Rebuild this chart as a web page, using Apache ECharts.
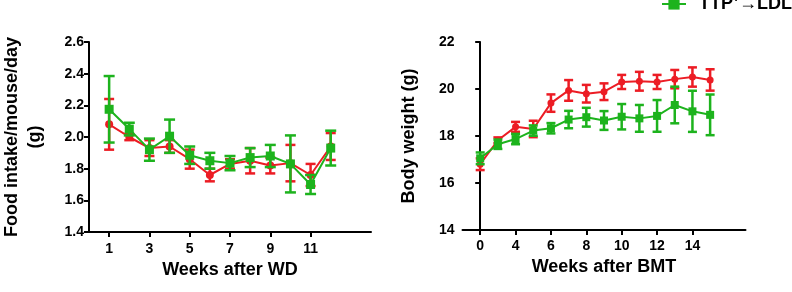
<!DOCTYPE html>
<html>
<head>
<meta charset="utf-8">
<script src="https://cdn.jsdelivr.net/npm/echarts@6/dist/echarts.min.js"></script>
<style>
  html, body { margin: 0; padding: 0; background: #fff; }
  #chart { width: 792px; height: 292px; }
</style>
</head>
<body>
<div id="chart"></div>
<script>
// food intake, weeks after WD
const weeksWD = [1, 2, 3, 4, 5, 6, 7, 8, 9, 10, 11, 12];
const foodRed = [2.08, 2.00, 1.93, 1.94, 1.86, 1.76, 1.83, 1.85, 1.82, 1.835, 1.76, 1.94];
const foodRedSem = [0.16, 0.02, 0.05, 0.04, 0.06, 0.04, 0.03, 0.08, 0.05, 0.115, 0.07, 0.085];
const foodGreen = [2.175, 2.05, 1.92, 2.005, 1.885, 1.85, 1.835, 1.87, 1.88, 1.83, 1.70, 1.93];
const foodGreenSem = [0.21, 0.04, 0.07, 0.105, 0.055, 0.05, 0.045, 0.06, 0.07, 0.18, 0.06, 0.11];

// body weight, weeks after BMT
const weeksBMT = ["0", "2", "4", "5", "6", "7", "8", "9", "10", "11", "12", "13", "14", "15"];
const bwRed = [16.8, 17.82, 18.39, 18.3, 19.4, 19.94, 19.8, 19.885, 20.3, 20.33, 20.3, 20.42, 20.51, 20.385];
const bwRedSem = [0.25, 0.12, 0.21, 0.35, 0.37, 0.44, 0.375, 0.355, 0.3, 0.4, 0.3, 0.39, 0.41, 0.455];
const bwGreen = [17.05, 17.65, 17.87, 18.23, 18.33, 18.7, 18.8, 18.66, 18.82, 18.75, 18.855, 19.32, 19.05, 18.9];
const bwGreenSem = [0.25, 0.2, 0.22, 0.22, 0.22, 0.37, 0.4, 0.4, 0.54, 0.57, 0.675, 0.78, 0.875, 0.865];

const redName = "TTP\u207A/\u207A\u2192LDLR\u207B/\u207B";
const greenName = "TTP\u207A\u2192LDLR\u207B/\u207B";

const RED = "#ec1c24";
const GREEN = "#1db31d";
const FONT = "Liberation Sans";

function errorBars(color, capW, lw) {
  return function (params, api) {
    const x = api.value(0);
    const lo = api.coord([x, api.value(1)]);
    const hi = api.coord([x, api.value(2)]);
    const h = capW / 2;
    const style = { stroke: color, lineWidth: lw };
    return {
      type: "group",
      children: [
        { type: "line", shape: { x1: lo[0], y1: lo[1], x2: hi[0], y2: hi[1] }, style: style },
        { type: "line", shape: { x1: lo[0] - h, y1: lo[1], x2: lo[0] + h, y2: lo[1] }, style: style },
        { type: "line", shape: { x1: hi[0] - h, y1: hi[1], x2: hi[0] + h, y2: hi[1] }, style: style }
      ]
    };
  };
}

const foodX = weeksWD;
const bwX = weeksBMT.map((w, i) => i);

function pts(xs, ys) { return ys.map((v, i) => [xs[i], v]); }
function errs(xs, ys, sem) { return ys.map((v, i) => [xs[i], v - sem[i], v + sem[i]]); }

const axisLineStyle = { lineStyle: { color: "#000", width: 2 } };
const tickStyle = { inside: false, length: 5, lineStyle: { color: "#000", width: 2 } };
const labelStyle = { color: "#000", fontFamily: FONT, fontWeight: "bold", fontSize: 14 };
const nameStyle = { color: "#000", fontFamily: FONT, fontWeight: "bold", fontSize: 18 };

const chart = echarts.init(document.getElementById("chart"));
chart.setOption({
  animation: false,
  backgroundColor: "#fff",
  legend: {
    data: [{ name: greenName }],
    left: 661,
    top: -5,
    padding: 0,
    itemWidth: 24,
    itemHeight: 14,
    textStyle: { color: "#000", fontFamily: FONT, fontWeight: "bold", fontSize: 18, padding: [0, 0, 0, 8] }
  },
  grid: [
    { left: 85, top: 42, width: 286, height: 190 },
    { left: 462.5, top: 42, width: 283, height: 188 }
  ],
  xAxis: [
    {
      gridIndex: 0, type: "value", min: 0, max: 14,
      name: "Weeks after WD", nameLocation: "middle", nameGap: 29, nameTextStyle: nameStyle,
      axisLine: axisLineStyle,
      axisTick: Object.assign({ customValues: [1, 3, 5, 7, 9, 11] }, tickStyle),
      axisLabel: Object.assign({ customValues: [1, 3, 5, 7, 9, 11], margin: 10 }, labelStyle),
      splitLine: { show: false }
    },
    {
      gridIndex: 1, type: "value", min: -1, max: 15,
      name: "Weeks after BMT", nameLocation: "middle", nameGap: 28, nameTextStyle: nameStyle,
      axisLine: axisLineStyle,
      axisTick: Object.assign({ customValues: [0, 2, 4, 6, 8, 10, 12] }, tickStyle),
      axisLabel: Object.assign({
        customValues: [0, 2, 4, 6, 8, 10, 12],
        margin: 9,
        formatter: v => weeksBMT[v]
      }, labelStyle),
      splitLine: { show: false }
    }
  ],
  yAxis: [
    {
      gridIndex: 0, type: "value", min: 1.4, max: 2.6, interval: 0.2,
      name: "Food intake/mouse/day\n(g)", nameLocation: "middle", nameGap: 42,
      nameTextStyle: Object.assign({ lineHeight: 23 }, nameStyle),
      axisLine: axisLineStyle, axisTick: tickStyle,
      axisLabel: Object.assign({ margin: 5, formatter: v => v.toFixed(1) }, labelStyle),
      splitLine: { show: false }
    },
    {
      gridIndex: 1, type: "value", min: 14, max: 22, interval: 2,
      name: "Body weight (g)", nameLocation: "middle", nameGap: 44, nameTextStyle: nameStyle,
      axisLine: axisLineStyle, axisTick: tickStyle,
      axisLabel: Object.assign({ margin: 8 }, labelStyle),
      splitLine: { show: false }
    }
  ],
  series: [
    {
      type: "custom", name: "redErrWD", xAxisIndex: 0, yAxisIndex: 0, z: 2,
      renderItem: errorBars(RED, 10, 2.5), encode: { x: 0, y: [1, 2] },
      data: errs(foodX, foodRed, foodRedSem)
    },
    {
      type: "line", name: redName, xAxisIndex: 0, yAxisIndex: 0, z: 3,
      data: pts(foodX, foodRed), symbol: "circle", symbolSize: 8,
      itemStyle: { color: RED }, lineStyle: { color: RED, width: 2 }
    },
    {
      type: "custom", name: "greenErrWD", xAxisIndex: 0, yAxisIndex: 0, z: 4,
      renderItem: errorBars(GREEN, 11, 2.5), encode: { x: 0, y: [1, 2] },
      data: errs(foodX, foodGreen, foodGreenSem)
    },
    {
      type: "line", name: greenName, xAxisIndex: 0, yAxisIndex: 0, z: 5,
      data: pts(foodX, foodGreen), symbol: "rect", symbolSize: 9,
      itemStyle: { color: GREEN }, lineStyle: { color: GREEN, width: 2 }
    },
    {
      type: "custom", name: "redErrBMT", xAxisIndex: 1, yAxisIndex: 1, z: 2,
      renderItem: errorBars(RED, 9, 2.5), encode: { x: 0, y: [1, 2] },
      data: errs(bwX, bwRed, bwRedSem)
    },
    {
      type: "line", name: redName, xAxisIndex: 1, yAxisIndex: 1, z: 3,
      data: pts(bwX, bwRed), symbol: "circle", symbolSize: 7,
      itemStyle: { color: RED }, lineStyle: { color: RED, width: 2 }
    },
    {
      type: "custom", name: "greenErrBMT", xAxisIndex: 1, yAxisIndex: 1, z: 4,
      renderItem: errorBars(GREEN, 9, 2.5), encode: { x: 0, y: [1, 2] },
      data: errs(bwX, bwGreen, bwGreenSem)
    },
    {
      type: "line", name: greenName, xAxisIndex: 1, yAxisIndex: 1, z: 5,
      data: pts(bwX, bwGreen), symbol: "rect", symbolSize: 8,
      itemStyle: { color: GREEN }, lineStyle: { color: GREEN, width: 2 }
    }
  ]
});
</script>
</body>
</html>
